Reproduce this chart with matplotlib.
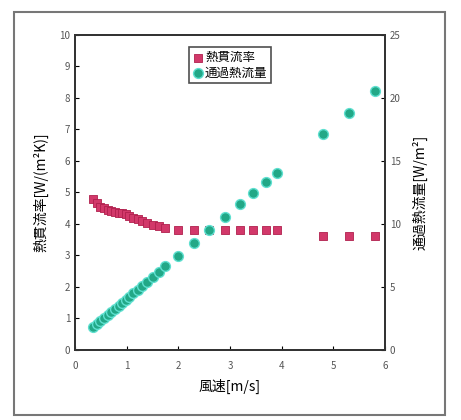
import matplotlib
matplotlib.use("Agg")
import matplotlib.pyplot as plt
from matplotlib.patches import Rectangle

plt.rcParams['font.family'] = ['Noto Sans CJK JP', 'DejaVu Sans']

# wind speed [m/s]
speed = [0.35, 0.42, 0.49, 0.56, 0.63, 0.70, 0.77, 0.84, 0.91, 0.98,
         1.05, 1.13, 1.21, 1.30, 1.40, 1.50, 1.62, 1.75, 2.00, 2.30,
         2.60, 2.90, 3.20, 3.45, 3.70, 3.90, 4.80, 5.30, 5.80]

# heat transmission coefficient (left axis)
u_value = [4.78, 4.65, 4.55, 4.50, 4.45, 4.41, 4.38, 4.36, 4.34, 4.30,
           4.25, 4.20, 4.16, 4.10, 4.03, 3.97, 3.92, 3.87, 3.82, 3.80,
           3.80, 3.79, 3.80, 3.80, 3.79, 3.80, 3.62, 3.60, 3.60]

# heat flux (right axis)
flux = [1.80, 2.04, 2.28, 2.52, 2.76, 3.00, 3.24, 3.48, 3.72, 3.97,
        4.21, 4.48, 4.76, 5.07, 5.41, 5.76, 6.17, 6.62, 7.48, 8.51,
        9.54, 10.57, 11.60, 12.46, 13.32, 14.01, 17.11, 18.83, 20.55]

xticks = [0, 1, 2, 3, 4, 5, 6]
left_ticks = list(range(0, 11))
right_ticks = [0, 5, 10, 15, 20, 25]

fig = plt.figure(figsize=(4.61, 4.20), dpi=100)
fig.patches.append(Rectangle((0.03, 0.012), 0.935, 0.96, transform=fig.transFigure,
                             fill=False, edgecolor='#777777', linewidth=1.5))

ax = fig.add_axes([0.163, 0.167, 0.672, 0.75])
ax2 = ax.twinx()

l1 = ax.scatter(speed, u_value, marker='s', s=40, c='#d2386a', edgecolors='#b0204e',
                linewidths=0.6, label='熱貫流率', zorder=3)
l2 = ax2.scatter(speed, flux, marker='o', s=50, c='#22a887', edgecolors='#5fe0d0',
                 linewidths=1.0, label='通過熱流量', zorder=3)

ax.set_xlim(0, 6)
ax.set_ylim(0, 10)
ax2.set_ylim(0, 25)
ax.set_xticks(xticks)
ax.set_yticks(left_ticks)
ax2.set_yticks(right_ticks)

for a in (ax, ax2):
    a.tick_params(direction='in', labelsize=7, labelcolor='#555555', length=3)
    for s in a.spines.values():
        s.set_linewidth(1.3)
        s.set_color('#333333')
ax.tick_params(axis='x', pad=8)

ax.set_xlabel('風速[m/s]', fontsize=10, labelpad=6)
ax.set_ylabel('熱貫流率[W/(m²K)]', fontsize=10, labelpad=8)
ax2.set_ylabel('通過熱流量[W/m²]', fontsize=10, labelpad=8)

leg = ax.legend([l1, l2], ['熱貫流率', '通過熱流量'], loc='upper center',
                bbox_to_anchor=(0.5, 0.98), fontsize=9, frameon=True,
                fancybox=False, edgecolor='#222222', handletextpad=0.2,
                borderpad=0.3, labelspacing=0.2, handlelength=0.8)
leg.get_frame().set_linewidth(1.2)

fig.savefig('out.png', dpi=100)
